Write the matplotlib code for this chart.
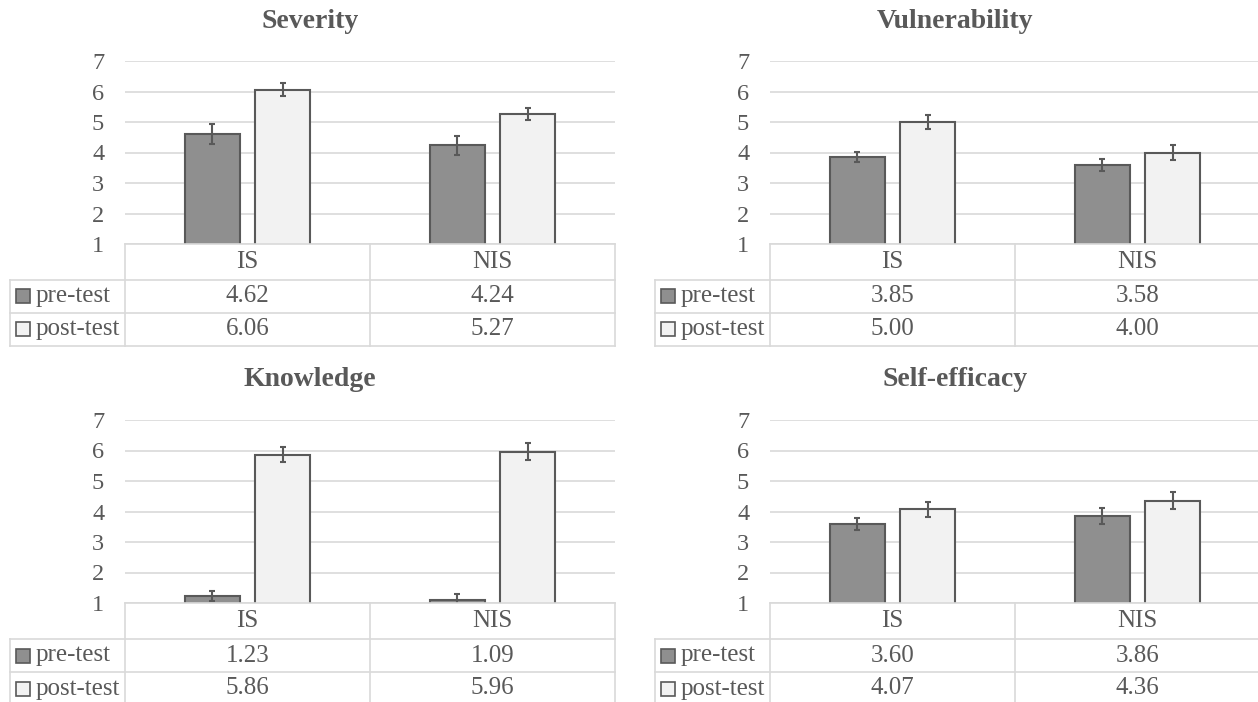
import matplotlib.pyplot as plt

# Data
categories = ['IS', 'NIS']
titles = ['Severity', 'Vulnerability', 'Knowledge', 'Self-efficacy']
pre_test = [[4.62, 4.24], [3.85, 3.58], [1.23, 1.09], [3.60, 3.86]]
post_test = [[6.06, 5.27], [5.00, 4.00], [5.86, 5.96], [4.07, 4.36]]
pre_err = [[0.33, 0.31], [0.17, 0.20], [0.15, 0.20], [0.20, 0.27]]
post_err = [[0.21, 0.20], [0.22, 0.25], [0.25, 0.28], [0.24, 0.27]]
series_names = ['pre-test', 'post-test']

# Styling
W, H = 1258, 702
TEXT = '#595959'
GRID = '#d9d9d9'
PRE_COLOR = '#8f8f8f'
POST_COLOR = '#f2f2f2'
EDGE = '#595959'
plt.rcParams['font.family'] = ['Liberation Serif', 'DejaVu Serif']

fig = plt.figure(figsize=(W / 100, H / 100), dpi=100)

# panel placement in pixels: left of plot area, y of gridline 7, y of gridline 1
panels = [(125, 61, 244), (770, 61, 244), (125, 420, 603), (770, 420, 603)]
cat_px = 245.0
plot_w = cat_px * len(categories)
label_w = 115.0
rows = [0, 36, 69, 102]  # table row edges, pixels below gridline 1
bar_w = 0.225
off = 0.143


def draw_panel(k):
    x0, y7, y1 = panels[k]
    ax = fig.add_axes([x0 / W, 1 - y1 / H, plot_w / W, (y1 - y7) / H])
    x = list(range(len(categories)))
    ax.bar([i - off for i in x], pre_test[k], bar_w, color=PRE_COLOR,
           edgecolor=EDGE, linewidth=1.5, zorder=3)
    ax.bar([i + off for i in x], post_test[k], bar_w, color=POST_COLOR,
           edgecolor=EDGE, linewidth=1.5, zorder=3)
    ax.errorbar([i - off for i in x], pre_test[k], yerr=pre_err[k], fmt='none',
                ecolor=EDGE, elinewidth=1.5, capsize=2.5, capthick=1.5, zorder=4)
    ax.errorbar([i + off for i in x], post_test[k], yerr=post_err[k], fmt='none',
                ecolor=EDGE, elinewidth=1.5, capsize=2.5, capthick=1.5, zorder=4)
    ax.set_xlim(-0.5, len(categories) - 0.5)
    ax.set_ylim(1, 7)
    ax.set_yticks(range(1, 8))
    ax.set_xticks([])
    ax.tick_params(axis='y', length=0, pad=15, labelsize=17.5, labelcolor=TEXT)
    ax.yaxis.grid(True, color=GRID, linewidth=1.2, zorder=0)
    for s in ax.spines.values():
        s.set_visible(False)

    fig.text((x0 + 185) / W, 1 - (y7 - 40) / H, titles[k], ha='center', va='center',
             fontsize=20, fontweight='bold', color=TEXT)

    # data table under the plot (y in pixels below the axis)
    tab = fig.add_axes([x0 / W, 1 - (y1 + rows[-1]) / H, plot_w / W, rows[-1] / H])
    tab.set_xlim(-0.5, len(categories) - 0.5)
    tab.set_ylim(rows[-1], 0)
    tab.axis('off')
    left = -0.5 - label_w / cat_px
    right = len(categories) - 0.5
    lk = dict(color=GRID, linewidth=1.2, clip_on=False)
    tab.plot([-0.5, right], [0, 0], **lk)
    for r in rows[1:]:
        tab.plot([left, right], [r, r], **lk)
    tab.plot([left, left], [rows[1], rows[-1]], **lk)
    for c in range(len(categories) + 1):
        tab.plot([c - 0.5, c - 0.5], [0, rows[-1]], **lk)
    mids = [(rows[j] + rows[j + 1]) / 2 for j in range(3)]
    for i, cat in enumerate(categories):
        tab.text(i, mids[0], cat, ha='center', va='center', fontsize=18, color=TEXT)
        tab.text(i, mids[1], f'{pre_test[k][i]:.2f}', ha='center', va='center',
                 fontsize=18, color=TEXT)
        tab.text(i, mids[2], f'{post_test[k][i]:.2f}', ha='center', va='center',
                 fontsize=18, color=TEXT)
    for r, (name, col) in enumerate(zip(series_names, [PRE_COLOR, POST_COLOR])):
        tab.plot([left + 13 / cat_px], [mids[r + 1]], marker='s', markersize=10,
                 markerfacecolor=col, markeredgecolor=EDGE, markeredgewidth=1.2,
                 clip_on=False)
        tab.text(left + 26 / cat_px, mids[r + 1], name, ha='left', va='center',
                 fontsize=18, color=TEXT)


for k in range(len(titles)):
    draw_panel(k)

fig.savefig('out.png', dpi=100, facecolor='white')
